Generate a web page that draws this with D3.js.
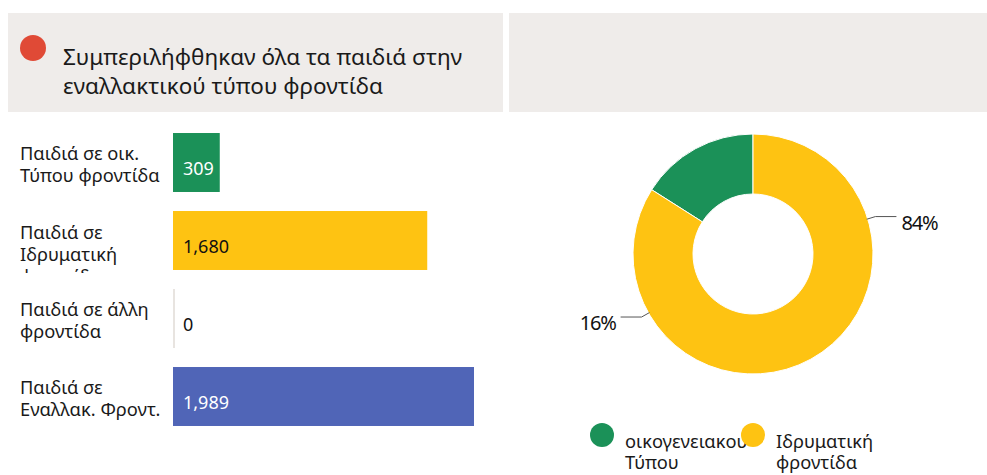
<!DOCTYPE html>
<html>
<head>
<meta charset="utf-8">
<script src="https://cdn.jsdelivr.net/npm/d3@7"></script>
<style>
  html, body { margin: 0; padding: 0; background: #ffffff; }
  svg { display: block; font-family: "Noto Sans", "Open Sans", sans-serif; }
</style>
</head>
<body>
<svg id="chart" width="987" height="475"></svg>
<script>
// Children by type of care
const categories = [
  ["Παιδιά σε οικ.", "Τύπου φροντίδα"],
  ["Παιδιά σε", "Ιδρυματική", "φροντίδα"],
  ["Παιδιά σε άλλη", "φροντίδα"],
  ["Παιδιά σε", "Εναλλακ. Φροντ."]
];
const values = [309, 1680, 0, 1989];
const barColors = ["#1b9158", "#fec312", "#e8e4e0", "#5065b7"];
const valueLabelColors = ["#ffffff", "#111111", "#111111", "#ffffff"];

// Share of children by care type (donut)
const shareNames = [["οικογενειακου", "Τύπου"], ["Ιδρυματική", "φροντίδα"]];
const shareValues = [16, 84];
const shareColors = ["#1b9158", "#fec312"];
// angle (degrees, clockwise from top) where each percent callout leaves the ring
const calloutAngles = [240.5, 73];

const titleLines = ["Συμπεριλήφθηκαν όλα τα παιδιά στην", "εναλλακτικού τύπου φροντίδα"];

const svg = d3.select("#chart");
const fmt = d3.format(",");

// ----- header panels -----
svg.append("rect").attr("x", 8).attr("y", 13).attr("width", 495).attr("height", 99).attr("fill", "#efecea");
svg.append("rect").attr("x", 509).attr("y", 13).attr("width", 478).attr("height", 99).attr("fill", "#efecea");
svg.append("circle").attr("cx", 33).attr("cy", 48).attr("r", 13).attr("fill", "#e04a36");
svg.append("text")
  .attr("x", 63).attr("y", 65)
  .attr("font-size", 22.5).attr("fill", "#1a1a1a")
  .selectAll("tspan").data(titleLines).join("tspan")
  .attr("x", 63).attr("dy", (d, i) => i ? 29 : 0)
  .text(d => d);

// ----- bar chart -----
const y = d3.scaleBand()
  .domain(d3.range(categories.length))
  .range([123.5, 435.5])
  .paddingInner(0.244)
  .paddingOuter(0.122);
const x = d3.scaleLinear().domain([0, 1989]).range([173, 474]);

const defs = svg.append("defs");
categories.forEach((c, i) => {
  defs.append("clipPath").attr("id", "rowclip" + i)
    .append("rect")
    .attr("x", 0).attr("y", y(i) - 8)
    .attr("width", 170).attr("height", y.bandwidth() + 11);
});

const rows = svg.append("g").selectAll("g").data(values).join("g");

rows.append("rect")
  .attr("x", x(0))
  .attr("y", (d, i) => y(i))
  .attr("width", d => Math.max(2, x(d) - x(0)))
  .attr("height", y.bandwidth())
  .attr("fill", (d, i) => barColors[i]);

rows.append("text")
  .attr("x", x(0) + 10)
  .attr("y", (d, i) => y(i) + y.bandwidth() / 2 + 12.5)
  .attr("font-size", 18)
  .attr("fill", (d, i) => valueLabelColors[i])
  .text(d => fmt(d));

// category labels: centred when they fit, top-aligned and clipped otherwise
rows.append("text")
  .attr("clip-path", (d, i) => `url(#rowclip${i})`)
  .attr("font-size", 18.3)
  .attr("fill", "#1a1a1a")
  .each(function (d, i) {
    const lines = categories[i];
    const mid = y(i) + y.bandwidth() / 2;
    const first = lines.length <= 2 ? mid - 3 : y(i) + 28;
    d3.select(this).selectAll("tspan").data(lines).join("tspan")
      .attr("x", 20)
      .attr("y", (l, k) => first + k * 22)
      .text(l => l);
  });

// ----- donut -----
const cx = 753, cy = 254, rOuter = 120, rInner = 60;
const greenTurn = 2 * Math.PI * shareValues[0] / 100;
const pie = d3.pie().value(d => d).sort(null)
  .startAngle(-greenTurn).endAngle(2 * Math.PI - greenTurn);
const arcs = pie(shareValues);
const arc = d3.arc().innerRadius(rInner).outerRadius(rOuter);
const donut = svg.append("g").attr("transform", `translate(${cx},${cy})`);
donut.selectAll("path").data(arcs).join("path")
  .attr("d", arc)
  .attr("fill", (d, i) => shareColors[i])
  .attr("stroke", "#ffffff").attr("stroke-width", 1);

// percent callouts
const callouts = donut.append("g").selectAll("g").data(arcs).join("g");
callouts.each(function (d, i) {
  const a = calloutAngles[i] * Math.PI / 180;
  const sx = Math.sin(a), sy = -Math.cos(a);
  const p0 = [sx * (rOuter - 1), sy * (rOuter - 1)];
  const p1 = [sx * (rOuter + 8), sy * (rOuter + 8)];
  const dir = sx >= 0 ? 1 : -1;
  const p2 = [p1[0] + dir * 21, p1[1]];
  const g = d3.select(this);
  g.append("polyline")
    .attr("points", [p0, p1, p2].map(p => p.join(",")).join(" "))
    .attr("fill", "none").attr("stroke", "#555555").attr("stroke-width", 1);
  g.append("text")
    .attr("x", p2[0] + dir * 5)
    .attr("y", p2[1] + 13)
    .attr("text-anchor", dir > 0 ? "start" : "end")
    .attr("font-size", 20)
    .attr("letter-spacing", -1.2)
    .attr("fill", "#111111")
    .text(shareValues[i] + "%");
});

// legend
const legend = svg.append("g").selectAll("g").data(shareNames).join("g")
  .attr("transform", (d, i) => `translate(${602 + i * 151},435)`);
legend.append("circle").attr("r", 12).attr("fill", (d, i) => shareColors[i]);
legend.append("text")
  .attr("font-size", 18.3).attr("fill", "#1a1a1a")
  .selectAll("tspan").data(d => d).join("tspan")
  .attr("x", 23).attr("y", (l, k) => 13 + k * 21)
  .text(l => l);
</script>
</body>
</html>
